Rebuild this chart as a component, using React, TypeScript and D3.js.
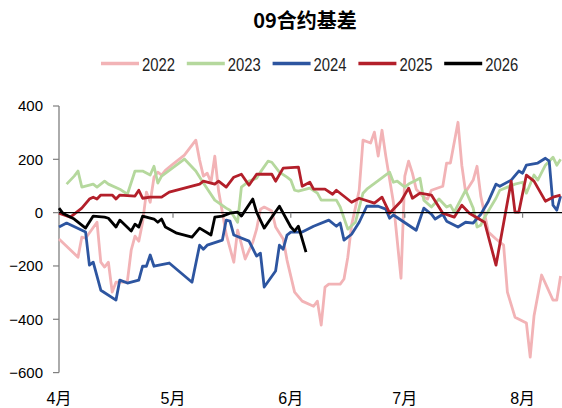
import * as d3 from 'd3';

type Pt = [string, number];

const YEARS = ['2022', '2023', '2024', '2025', '2026'];
const COLORS = ['#f2b3b6', '#b5d89d', '#2d55a0', '#b31f2a', '#000000'];

const Y_TICKS = [400, 200, 0, -200, -400, -600];

const s2022: Pt[] = [
  ['04-01', -99], ['04-06', -167], ['04-07', -92], ['04-08', -96], ['04-11', -36], ['04-12', -186],
  ['04-13', -204], ['04-14', -186], ['04-15', -298], ['04-16', -261], ['04-18', -261], ['04-19', -257],
  ['04-20', -141], ['04-21', -88], ['04-22', -107], ['04-23', -36], ['04-24', 77], ['04-25', 39],
  ['04-26', 133], ['04-27', 152], ['04-28', 141], ['04-29', 159], ['05-01', 182], ['05-04', 216],
  ['05-07', 272], ['05-08', 197], ['05-09', 137], ['05-10', 148], ['05-11', 114], ['05-12', 212],
  ['05-13', 81], ['05-15', -81], ['05-17', -186], ['05-18', -66], ['05-19', -118], ['05-20', -174],
  ['05-22', -111], ['05-23', -62], ['05-24', 13], ['05-25', 21], ['05-27', 6], ['05-28', -54],
  ['05-30', -99], ['05-31', -178], ['06-02', -298], ['06-04', -332], ['06-07', -351], ['06-08', -332],
  ['06-09', -422], ['06-10', -279], ['06-11', -268], ['06-14', -268], ['06-15', -249], ['06-16', -167],
  ['06-17', -47], ['06-19', 84], ['06-20', 272], ['06-22', 261], ['06-23', 302], ['06-24', 212],
  ['06-25', 309], ['06-26', 212], ['06-28', 39], ['06-30', -246], ['07-01', 137], ['07-02', 193],
  ['07-03', 148], ['07-04', 88], ['07-06', 58], ['07-07', 51], ['07-08', 84], ['07-11', 99],
  ['07-12', 186], ['07-13', 186], ['07-15', 339], ['07-16', 178], ['07-17', 77], ['07-19', 122],
  ['07-20', 174], ['07-21', 62], ['07-23', -73], ['07-25', -99], ['07-27', -122], ['07-28', -298],
  ['07-30', -392], ['08-02', -414], ['08-03', -542], ['08-04', -388], ['08-06', -234], ['08-09', -328],
  ['08-10', -328], ['08-11', -238],
];

const s2023: Pt[] = [
  ['04-03', 107], ['04-05', 137], ['04-06', 156], ['04-07', 96], ['04-10', 107], ['04-11', 96],
  ['04-13', 118], ['04-14', 107], ['04-17', 88], ['04-19', 69], ['04-21', 156], ['04-23', 156],
  ['04-25', 141], ['04-26', 174], ['04-27', 111], ['04-28', 137], ['05-04', 201], ['05-07', 156],
  ['05-09', 111], ['05-12', 47], ['05-15', 17], ['05-16', 9], ['05-18', -36], ['05-19', 96],
  ['05-21', 118], ['05-23', 129], ['05-24', 152], ['05-26', 193], ['05-27', 189], ['05-29', 152],
  ['05-31', 133], ['06-01', 122], ['06-02', 84], ['06-03', 81], ['06-06', 92], ['06-08', 73],
  ['06-09', 47], ['06-13', 47], ['06-14', 21], ['06-16', -62], ['06-18', -36], ['06-20', 73],
  ['06-21', 88], ['06-27', 152], ['06-28', 114], ['06-29', 118], ['07-01', 96], ['07-02', 107],
  ['07-05', 129], ['07-06', 47], ['07-08', 21], ['07-10', 51], ['07-12', 21], ['07-13', 28],
  ['07-14', 2], ['07-17', 84], ['07-19', 17], ['07-20', -54], ['07-21', -47], ['07-22', -17],
  ['07-25', 54], ['07-26', 84], ['07-30', 107], ['08-01', 114], ['08-02', 73], ['08-04', 141],
  ['08-05', 122], ['08-07', 178], ['08-09', 208], ['08-10', 178], ['08-11', 200],
];

const s2024: Pt[] = [
  ['04-01', -54], ['04-03', -39], ['04-08', -73], ['04-09', -197], ['04-10', -186], ['04-12', -291],
  ['04-16', -328], ['04-17', -253], ['04-19', -264], ['04-22', -253], ['04-23', -201], ['04-24', -201],
  ['04-25', -159], ['04-26', -201], ['04-30', -189], ['05-06', -261], ['05-08', -122], ['05-09', -137],
  ['05-10', -122], ['05-14', -103], ['05-15', -28], ['05-16', -32], ['05-17', -84], ['05-21', -107],
  ['05-23', -163], ['05-24', -152], ['05-25', -279], ['05-28', -219], ['05-29', -122], ['05-30', -137],
  ['05-31', -84], ['06-01', -73], ['06-04', -73], ['06-07', -51], ['06-11', -28], ['06-13', -51],
  ['06-14', -39], ['06-15', -103], ['06-17', -81], ['06-19', -36], ['06-21', 24], ['06-24', 24],
  ['06-26', 13], ['06-27', -21], ['06-28', -9], ['07-04', -66], ['07-06', 17], ['07-08', -6],
  ['07-09', -24], ['07-11', -6], ['07-12', -32], ['07-15', -54], ['07-17', -36], ['07-19', -39],
  ['07-21', -6], ['07-23', 43], ['07-25', 107], ['07-26', 99], ['07-29', 122], ['07-31', 156],
  ['08-01', 148], ['08-02', 178], ['08-05', 186], ['08-07', 204], ['08-08', 193], ['08-09', 28],
  ['08-10', 9], ['08-11', 62],
];

const s2025: Pt[] = [
  ['04-01', -2], ['04-04', -17], ['04-07', 17], ['04-09', 51], ['04-10', 58], ['04-11', 51],
  ['04-12', 66], ['04-15', 66], ['04-16', 51], ['04-17', 66], ['04-21', 62], ['04-22', 84],
  ['04-23', 54], ['04-25', 58], ['04-28', 58], ['04-30', 77], ['05-08', 107], ['05-09', 118],
  ['05-12', 107], ['05-13', 118], ['05-15', 96], ['05-17', 133], ['05-19', 144], ['05-21', 103],
  ['05-23', 144], ['05-27', 144], ['05-28', 118], ['05-30', 167], ['06-03', 171], ['06-04', 99],
  ['06-06', 114], ['06-07', 88], ['06-10', 88], ['06-12', 69], ['06-13', 84], ['06-17', 39],
  ['06-19', 54], ['06-23', 36], ['06-25', 58], ['06-27', -2], ['06-30', 43], ['07-02', 92],
  ['07-03', 54], ['07-05', 73], ['07-08', 66], ['07-11', -2], ['07-14', -17], ['07-16', 28],
  ['07-18', -2], ['07-22', -36], ['07-25', -197], ['07-29', 118], ['07-30', 2], ['07-31', 2],
  ['08-02', 141], ['08-04', 118], ['08-07', 43], ['08-09', 58], ['08-11', 66],
];

const s2026: Pt[] = [
  ['04-01', 17], ['04-02', -2], ['04-05', -24], ['04-08', -58], ['04-10', -13], ['04-13', -17],
  ['04-14', -21], ['04-16', -54], ['04-17', -28], ['04-20', -69], ['04-21', -43], ['04-22', -54],
  ['04-23', -13], ['04-26', -24], ['04-27', -36], ['04-28', -24], ['04-29', -54], ['05-02', -77],
  ['05-06', -92], ['05-08', -58], ['05-11', -84], ['05-12', -17], ['05-14', -13], ['05-16', -2],
  ['05-18', 2], ['05-19', -13], ['05-22', 51], ['05-23', 2], ['05-25', -58], ['05-29', 24],
  ['06-01', -54], ['06-02', -69], ['06-03', -51], ['06-05', -148],
];

const SERIES = [s2022, s2023, s2024, s2025, s2026];

const W = 562;
const H = 408;
const LEFT = 59;
const TOP = 106;
const BOTTOM = 372.6;
const PX_PER_DAY = 3.8;

const parse = (s: string) => new Date(Date.UTC(2026, +s.slice(0, 2) - 1, +s.slice(3)));

const start = parse('04-01');
const end = parse('08-12');

const FONT = '"Liberation Sans", Arial, "Noto Sans CJK SC", sans-serif';

export default function App() {
  const x = d3
    .scaleUtc()
    .domain([start, end])
    .range([LEFT, LEFT + d3.utcDay.count(start, end) * PX_PER_DAY]);
  const y = d3.scaleLinear().domain([-600, 400]).range([BOTTOM, TOP]);

  const line = d3
    .line<Pt>()
    .x((d) => x(parse(d[0])))
    .y((d) => y(d[1]));

  const months = d3.utcMonth.range(start, end);

  return (
    <svg
      width={W}
      height={H}
      style={{ position: 'fixed', left: 0, top: 0, background: '#fff' }}
    >
      <text
        x={305}
        y={28}
        textAnchor="middle"
        fontSize={20}
        fontWeight="bold"
        fontFamily='"Noto Sans CJK SC", sans-serif'
      >
        09合约基差
      </text>

      {/* legend */}
      {YEARS.map((yr, i) => {
        const lx = 101 + i * 85.8;
        return (
          <g key={yr}>
            <line x1={lx} x2={lx + 38} y1={63.5} y2={63.5} stroke={COLORS[i]} strokeWidth={3.5} />
            <text
              x={lx + 41}
              y={70.5}
              fontSize={18}
              fontFamily={FONT}
              fill="#222"
              textLength={33}
              lengthAdjust="spacingAndGlyphs"
            >
              {yr}
            </text>
          </g>
        );
      })}

      {/* y axis */}
      <line x1={LEFT} x2={LEFT} y1={TOP} y2={BOTTOM} stroke="#7f7f7f" strokeWidth={1.3} />
      {Y_TICKS.map((t) => (
        <g key={t}>
          <line x1={LEFT - 6} x2={LEFT} y1={y(t)} y2={y(t)} stroke="#7f7f7f" strokeWidth={1.2} />
          <text x={43} y={y(t) + 5.3} textAnchor="end" fontSize={15} fontFamily={FONT}>
            {t < 0 ? `\u2212${-t}` : t}
          </text>
        </g>
      ))}

      {/* series */}
      {SERIES.map((s, i) => (
        <path
          key={YEARS[i]}
          d={line(s)!}
          fill="none"
          stroke={COLORS[i]}
          strokeWidth={2.8}
          strokeLinejoin="round"
        />
      ))}

      {/* x axis at zero */}
      <line x1={LEFT} x2={W} y1={y(0)} y2={y(0)} stroke="#000" strokeWidth={1.3} />
      {months.map((m) => (
        <g key={m.getTime()}>
          {m.getTime() !== start.getTime() && (
            <line x1={x(m)} x2={x(m)} y1={y(0)} y2={y(0) + 5} stroke="#7f7f7f" strokeWidth={1.2} />
          )}
          <text x={x(m)} y={404} textAnchor="middle" fontSize={16} fontFamily={FONT}>
            {`${m.getUTCMonth() + 1}月`}
          </text>
        </g>
      ))}
    </svg>
  );
}
